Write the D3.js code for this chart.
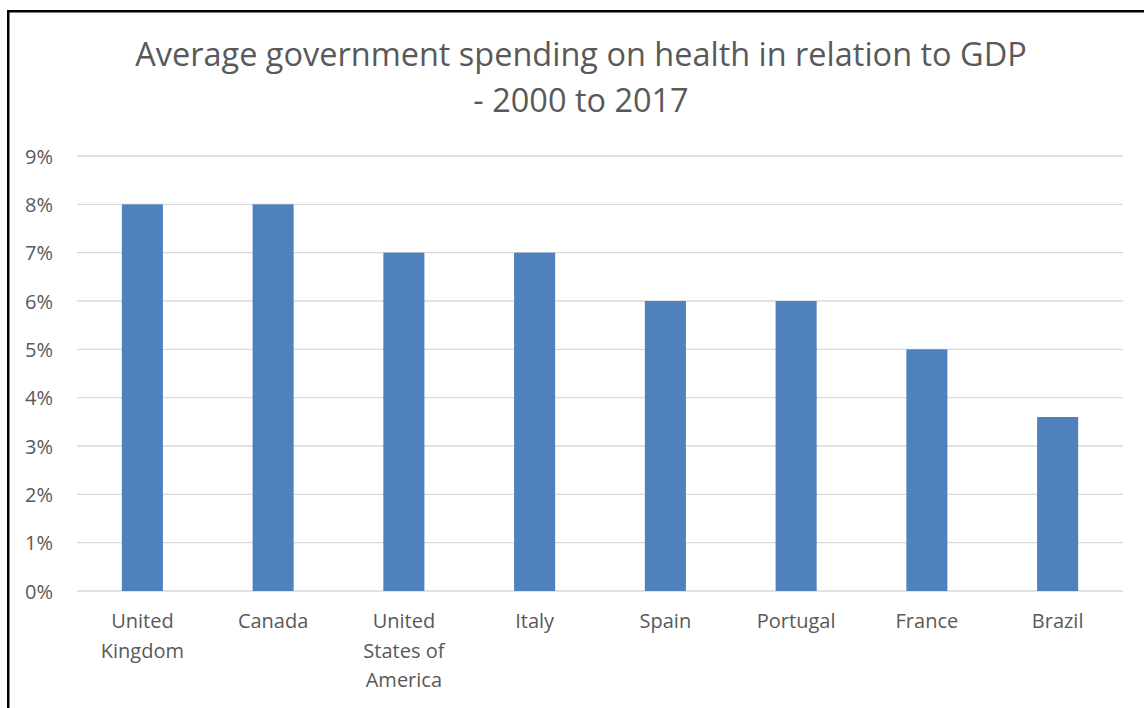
<!DOCTYPE html>
<html>
<head>
<meta charset="utf-8">
<script src="https://cdn.jsdelivr.net/npm/d3@7"></script>
<style>
  html, body { margin: 0; padding: 0; background: #fff; }
  svg { display: block; }
  text { font-family: "Open Sans", Lato, sans-serif; fill: #595959; }
</style>
</head>
<body>
<svg id="chart" width="1144" height="708"></svg>
<script>
// Average government health spending as a share of GDP, 2000–2017
const countries = [
  ["United", "Kingdom"],
  ["Canada"],
  ["United", "States of", "America"],
  ["Italy"],
  ["Spain"],
  ["Portugal"],
  ["France"],
  ["Brazil"]
];
const spending = [8, 8, 7, 7, 6, 6, 5, 3.6];
const yTicks = [0, 1, 2, 3, 4, 5, 6, 7, 8, 9];
const titleLines = ["Average government spending on health in relation to GDP", "- 2000 to 2017"];

const W = 1144, H = 708;
const margin = { left: 77, right: 21, top: 156, bottom: 117 };
const FONT = "'Open Sans', Lato, sans-serif";
const svg = d3.select("#chart");

// outer frame
svg.append("rect")
  .attr("x", 8.25).attr("y", 11.25)
  .attr("width", W + 50).attr("height", H + 50)
  .attr("fill", "#fff").attr("stroke", "#000").attr("stroke-width", 2.5);

const keys = countries.map(d => d.join(" "));
const x = d3.scaleBand()
  .domain(keys)
  .range([margin.left, W - margin.right])
  .paddingInner(0.686).paddingOuter(0.343);
const y = d3.scaleLinear()
  .domain([0, 9])
  .range([H - margin.bottom, margin.top]);

// horizontal gridlines
svg.append("g")
  .selectAll("line")
  .data(yTicks)
  .join("line")
  .attr("x1", margin.left).attr("x2", W - margin.right)
  .attr("y1", d => y(d)).attr("y2", d => y(d))
  .attr("stroke", "#d9d9d9").attr("stroke-width", 1.3);

// bars
svg.append("g")
  .selectAll("rect")
  .data(spending)
  .join("rect")
  .attr("x", (d, i) => x(keys[i]))
  .attr("width", x.bandwidth())
  .attr("y", d => y(d))
  .attr("height", d => y(0) - y(d))
  .attr("fill", "#4f81bd");

// y axis labels
const yAxis = d3.axisLeft(y).tickValues(yTicks).tickFormat(d => d + "%").tickSize(0).tickPadding(0);
const gy = svg.append("g").attr("transform", `translate(53,0)`).call(yAxis);
gy.select(".domain").remove();
gy.selectAll("text")
  .attr("font-size", 20).attr("dy", "0.36em")
  .attr("fill", "#595959")
  .style("font-family", FONT);

// category labels (multi-line)
const gx = svg.append("g");
countries.forEach((lines, i) => {
  const cx = x(keys[i]) + x.bandwidth() / 2;
  const t = gx.append("text")
    .attr("text-anchor", "middle")
    .attr("font-size", 20)
    .attr("x", cx)
    .attr("y", 628);
  lines.forEach((ln, j) => {
    t.append("tspan")
      .attr("x", cx)
      .attr("dy", j === 0 ? 0 : 29.5)
      .text(ln);
  });
});

// title, fitted to its line width
const title = svg.append("text")
  .attr("text-anchor", "middle")
  .attr("font-size", 30);
titleLines.forEach((ln, j) => {
  title.append("tspan")
    .attr("x", 581)
    .attr("y", 66 + j * 46)
    .text(ln);
});
const first = title.select("tspan").node().getComputedTextLength();
title.attr("font-size", 30 * 892 / first);
</script>
</body>
</html>
